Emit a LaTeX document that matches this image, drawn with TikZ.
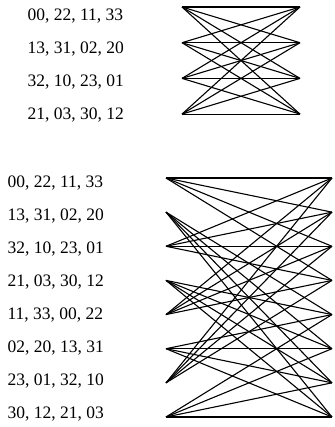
\documentclass[tikz,border=0pt]{standalone}
\usepackage{fontspec}
\setmainfont{Liberation Serif}
\usetikzlibrary{positioning}

\begin{document}
\begin{tikzpicture}[x=1pt,y=-1pt,line width=1.1pt]
  \tikzset{row/.style={anchor=west,inner sep=0pt,font=\fontsize{17.5}{20}\selectfont}}
  \useasboundingbox (0,0) rectangle (334,427);
  % upper table
  \foreach \t [count=\i] in {{00, 22, 11, 33},{13, 31, 02, 20},{32, 10, 23, 01},{21, 03, 30, 12}}
    \node[row] (ut\i) at (27,{16+33*(\i-1)}) {\t};
  \foreach \i in {1,...,4} {
    \coordinate (ul\i) at (182,{7+35.7*(\i-1)});
    \coordinate (ur\i) at (300,{7+35.7*(\i-1)});
  }
  \foreach \i in {1,...,4}
    \foreach \j in {1,...,4}
      \draw (ul\i) -- (ur\j);
  % lower table
  \foreach \t [count=\i] in {{00, 22, 11, 33},{13, 31, 02, 20},{32, 10, 23, 01},{21, 03, 30, 12},
                             {11, 33, 00, 22},{02, 20, 13, 31},{23, 01, 32, 10},{30, 12, 21, 03}}
    \node[row] (lt\i) at (7,{183+33*(\i-1)}) {\t};
  \foreach \i in {1,...,8} {
    \coordinate (ll\i) at (166,{178+34.14*(\i-1)});
    \coordinate (lr\i) at (332,{178+34.14*(\i-1)});
  }
  % odd rows to the upper half, even rows to the lower half
  \foreach \i in {1,3,5,7}
    \foreach \j in {1,...,4}
      \draw (ll\i) -- (lr\j);
  \foreach \i in {2,4,6,8}
    \foreach \j in {5,...,8}
      \draw (ll\i) -- (lr\j);
\end{tikzpicture}
\end{document}
